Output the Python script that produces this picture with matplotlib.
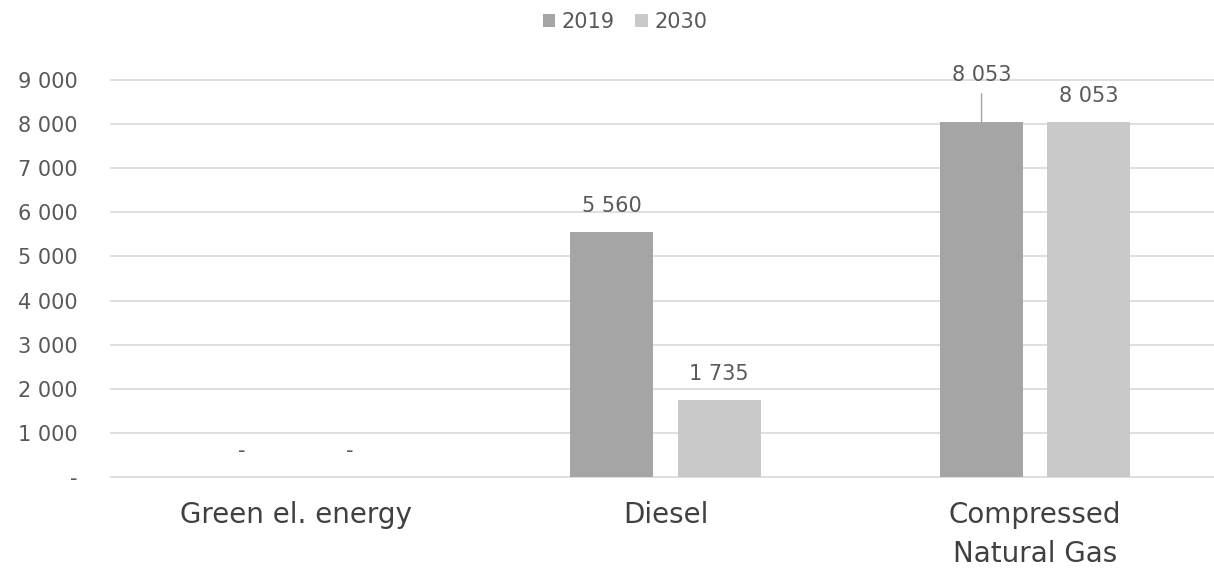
import numpy as np
import matplotlib.pyplot as plt
from matplotlib.ticker import FuncFormatter

categories = ['Green el. energy', 'Diesel', 'Compressed\nNatural Gas']
years = ['2019', '2030']
vals_2019 = [0, 5560, 8053]
vals_2030 = [0, 1735, 8053]
colors = ['#a5a5a5', '#c9c9c9']


def fmt_num(v):
    if v == 0:
        return '-'
    return f'{int(round(v)):,}'.replace(',', ' ')


plt.rcParams['font.family'] = ['DejaVu Sans']

fig = plt.figure(figsize=(12.14, 5.72), dpi=100)
ax = fig.add_axes([111 / 1214, 1 - 477 / 572, (1220 - 111) / 1214, (477 - 80) / 572])

x = np.arange(len(categories))
w = 0.225
off = 0.145
b1 = ax.bar(x - off, vals_2019, w, color=colors[0], label=years[0], zorder=2)
b2 = ax.bar(x + off, vals_2030, w, color=colors[1], label=years[1], zorder=2)

ax.set_xlim(-0.5, 2.5)
ax.set_ylim(0, 9000)
ax.set_yticks(np.arange(0, 9001, 1000))
ax.yaxis.set_major_formatter(FuncFormatter(lambda v, p: fmt_num(v)))
ax.grid(axis='y', color='#d9d9d9', linewidth=1.2, zorder=0)
for gl in ax.get_ygridlines():
    gl.set_clip_on(False)
ax.set_axisbelow(True)
for s in ax.spines.values():
    s.set_visible(False)
ax.tick_params(axis='y', length=0, pad=24, labelsize=15, labelcolor='#595959')
ax.tick_params(axis='x', length=0, pad=17, labelsize=20, labelcolor='#404040')
ax.set_xticks(x)
ax.set_xticklabels(categories, linespacing=1.5)
for t in ax.get_xticklabels():
    t.set_verticalalignment('top')

# data labels
lab_kw = dict(ha='center', va='center', fontsize=15, color='#595959')
for i in range(len(categories)):
    for bars, vals, k in ((b1, vals_2019, 0), (b2, vals_2030, 1)):
        v = vals[i]
        bx = x[i] + (off if k else -off)
        if i == 2 and k == 0:
            # label moved up with a leader line
            ax.annotate(fmt_num(v), xy=(bx, v), xytext=(bx, v + 1050),
                        ha='center', va='center', fontsize=15, color='#595959',
                        arrowprops=dict(arrowstyle='-', color='#a5a5a5', lw=1,
                                        shrinkA=4, shrinkB=0))
        else:
            ax.annotate(fmt_num(v), xy=(bx, v), xytext=(0, 26), textcoords='offset pixels',
                        **lab_kw)

fig.legend(handles=[b1, b2], labels=years, loc='center', bbox_to_anchor=(625 / 1214, 1 - 22 / 572),
           ncol=2, frameon=False, fontsize=15, labelcolor='#595959', handlelength=0.6,
           handleheight=0.6, handletextpad=0.3, columnspacing=1.0)

fig.savefig('out.png', dpi=100)
